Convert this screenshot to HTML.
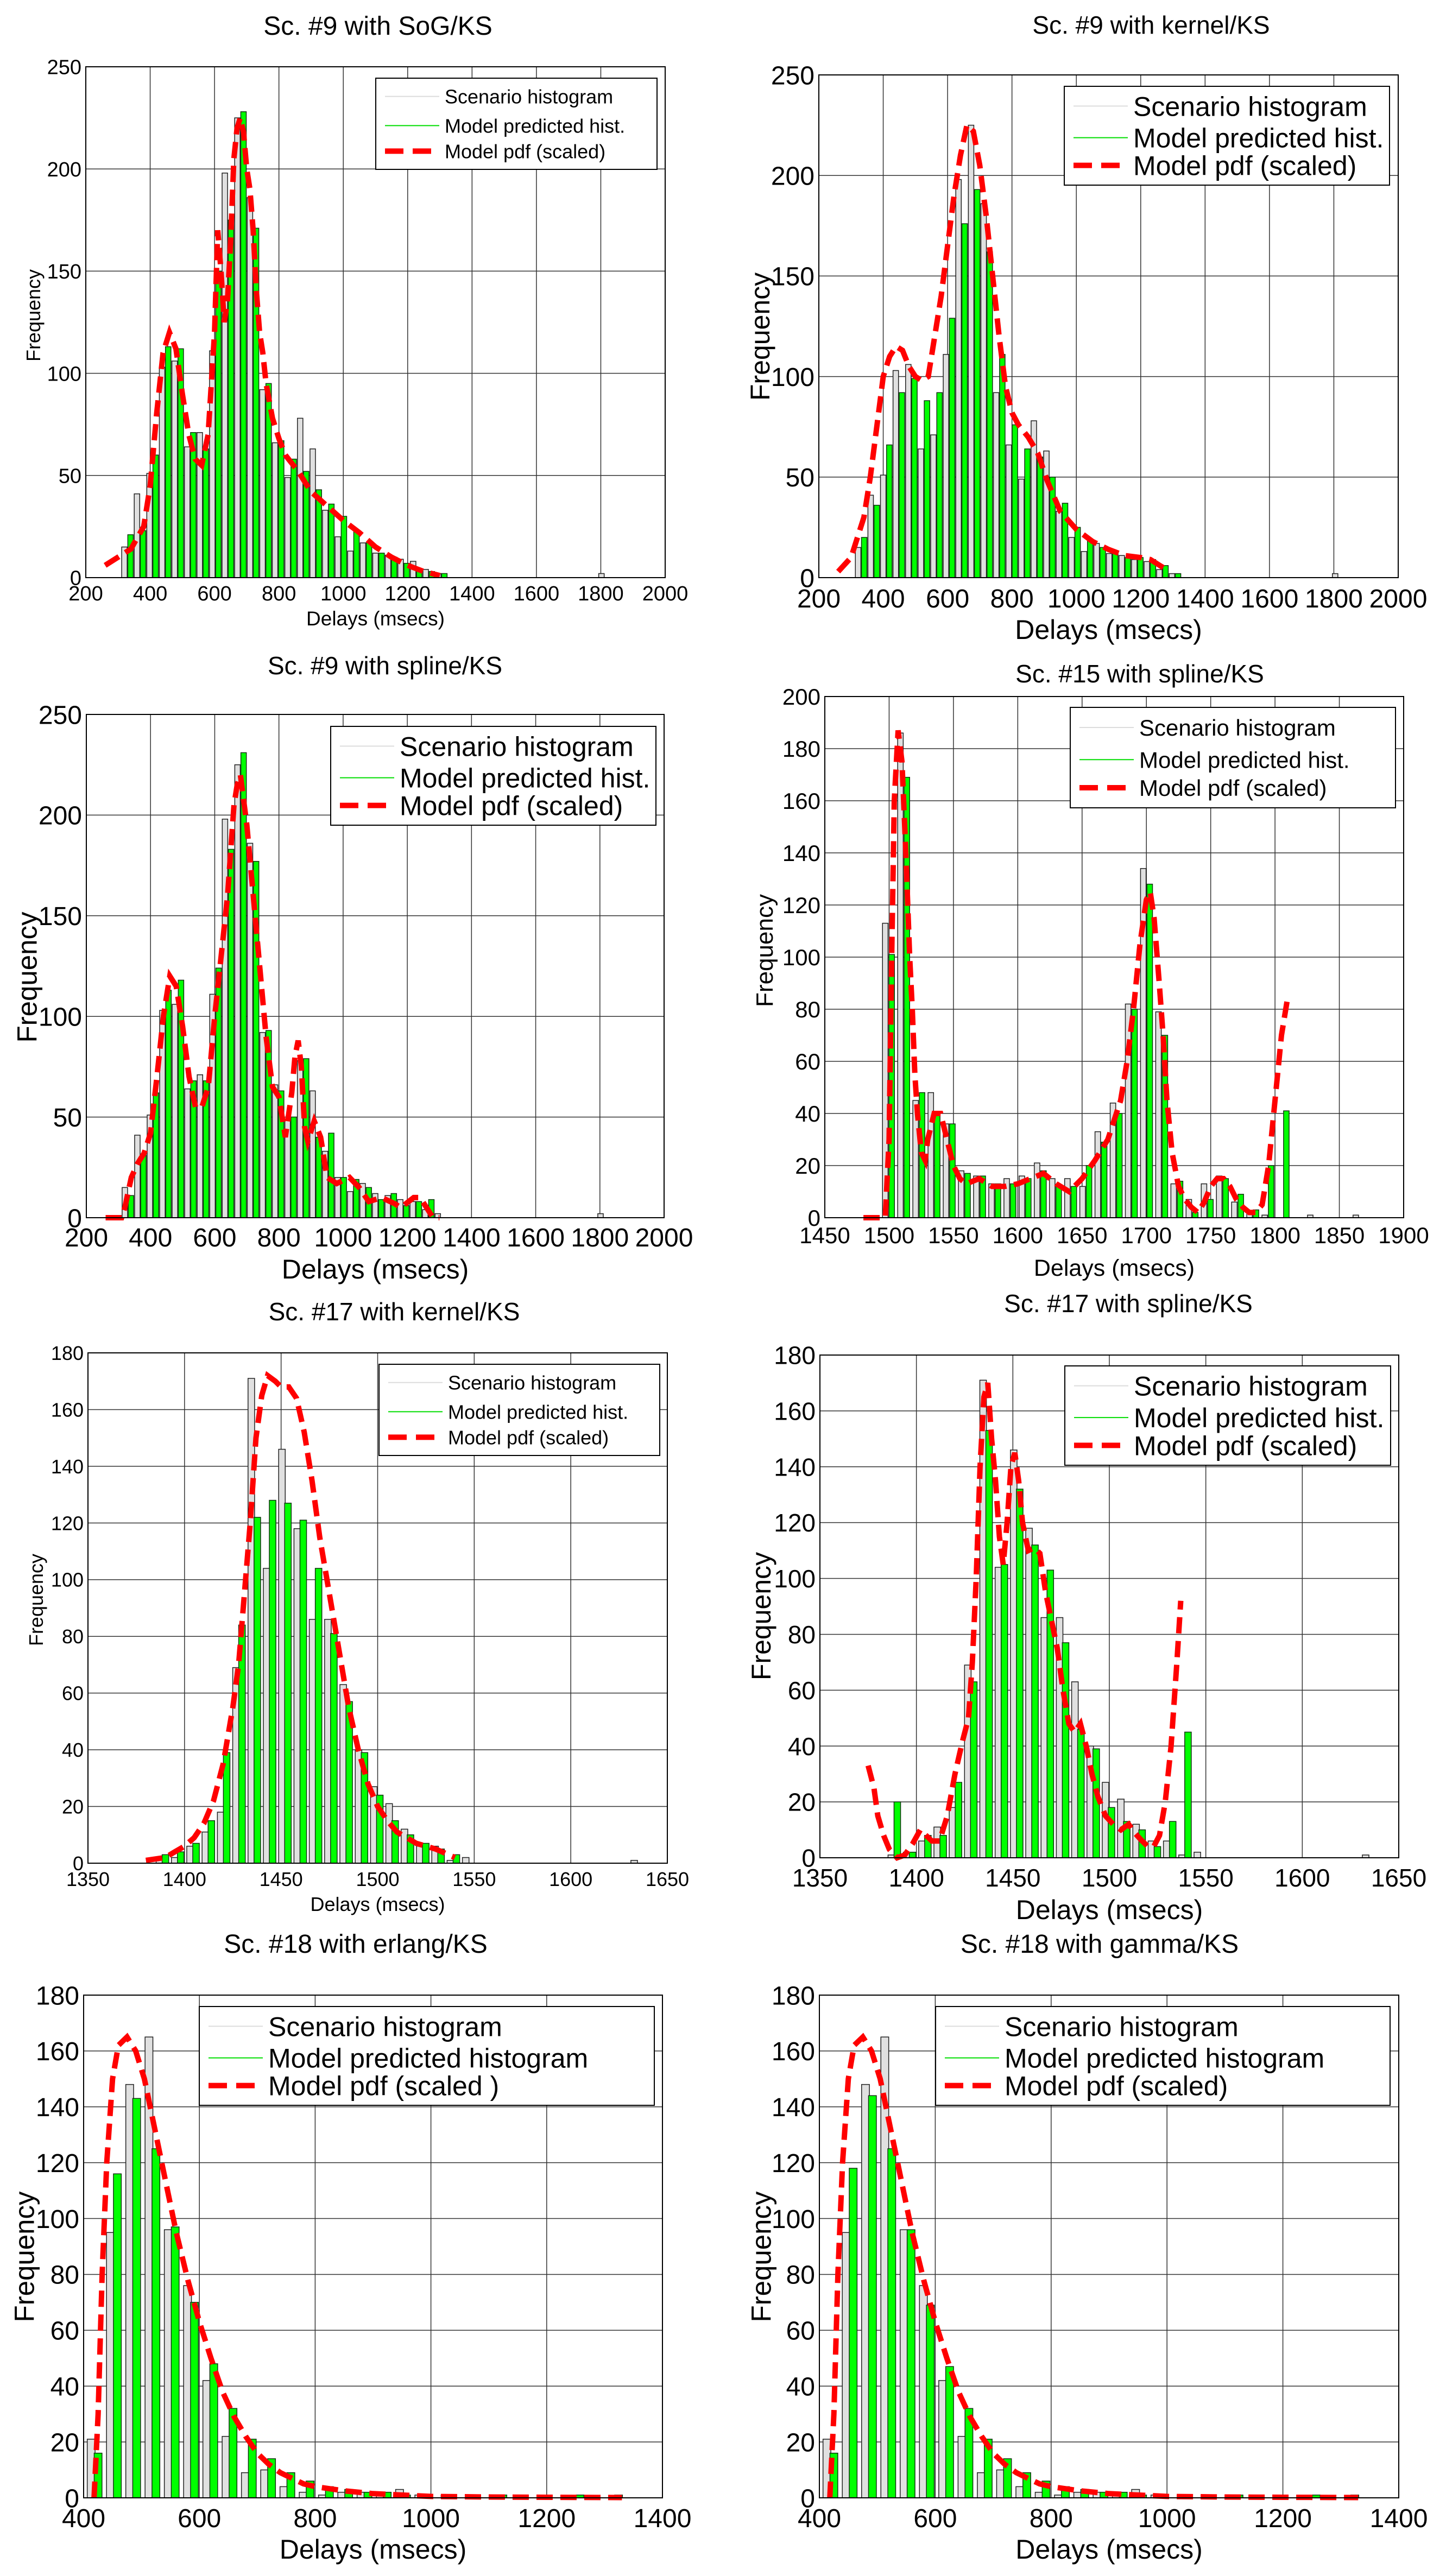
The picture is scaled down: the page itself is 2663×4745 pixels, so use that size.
<!DOCTYPE html>
<html><head><meta charset="utf-8"><title>Delay histograms</title>
<style>
html,body{margin:0;padding:0;background:#fff;}
svg{display:block;font-family:"Liberation Sans",Arial,sans-serif;}
</style></head>
<body>
<svg id="fig" xmlns="http://www.w3.org/2000/svg" width="2663" height="4745" viewBox="0 0 2663 4745">
<rect x="0" y="0" width="2663" height="4745" fill="#fff"/>
</svg>
<script>
// ---------- data ----------
const legendLabelsA = ["Scenario histogram","Model predicted hist.","Model pdf (scaled)"];
const legendLabelsB = ["Scenario histogram","Model predicted histogram","Model pdf (scaled )"];
const legendLabelsC = ["Scenario histogram","Model predicted histogram","Model pdf (scaled)"];

const xTicks9 = [200,400,600,800,1000,1200,1400,1600,1800,2000];
const yTicks9 = [0,50,100,150,200,250];
const xTicks15 = [1450,1500,1550,1600,1650,1700,1750,1800,1850,1900];
const yTicks15 = [0,20,40,60,80,100,120,140,160,180,200];
const xTicks17 = [1350,1400,1450,1500,1550,1600,1650];
const yTicks17 = [0,20,40,60,80,100,120,140,160,180];
const xTicks18 = [400,600,800,1000,1200,1400];
const yTicks18 = [0,20,40,60,80,100,120,140,160,180];

const gray9 = [15,41,51,103,106,64,71,111,198,225,186,92,66,49,78,63,33,20,13,17,12,11,9,8,4,2,0,0,0,0,0,0,0,0,0,0,0,0,2];
const green9sog = [21,23,60,113,112,71,63,150,175,228,171,95,67,58,52,43,36,30,23,17,12,10,7,4,3,2];
const pdf9sogX = [260,300,340,380,400,420,440,460,480,500,520,540,560,580,600,610,620,630,640,650,660,670,680,690,700,710,720,730,740,750,760,780,800,820,860,900,950,1000,1050,1100,1150,1200,1250,1300];
const pdf9sogY = [6,10,14,25,45,80,110,120,112,90,70,58,55,70,120,170,150,125,135,165,205,220,225,218,200,190,170,140,120,110,95,78,68,60,52,42,35,28,22,15,10,6,3,1];

const green9ker = [20,36,66,92,99,88,92,129,176,193,162,111,76,64,60,50,37,25,19,15,12,10,10,9,6,2];
const pdf9kerX = [260,300,340,360,380,400,420,440,460,480,500,520,540,560,580,600,620,640,660,680,700,720,740,760,780,800,820,850,880,910,950,1000,1050,1100,1150,1200,1230,1260,1290];
const pdf9kerY = [3,10,30,50,75,100,110,115,113,105,100,98,100,120,140,165,190,210,225,222,205,180,150,120,95,82,76,70,62,48,33,24,18,14,11,10,9,6,3];

const green9spl = [11,31,62,113,118,68,68,124,183,231,177,93,63,50,79,40,42,20,19,15,9,12,6,8,9];
const pdf9splX = [260,310,320,340,360,380,400,420,440,460,480,500,520,540,560,580,600,620,640,660,670,680,700,720,740,760,780,800,820,840,850,860,870,880,890,910,930,950,980,1020,1050,1080,1120,1160,1180,1220,1240,1260,1280,1300];
const pdf9splY = [0,0,5,20,27,32,42,70,100,120,115,95,70,55,55,65,100,130,160,205,215,220,195,160,125,90,65,60,40,62,80,88,75,45,38,48,40,20,17,20,15,8,10,7,5,10,10,5,0,0];

const gray15 = [113,186,45,48,36,18,16,13,15,16,21,15,15,12,33,44,82,134,79,13,7,13,16,6,2,1,0,0,1,0,0,1];
const green15 = [101,169,48,40,36,17,16,13,13,15,18,12,12,20,29,40,80,128,70,14,2,7,15,9,3,20,41];
const pdf15X = [1480,1497,1500,1502,1504,1507,1510,1513,1516,1518,1520,1522,1525,1528,1530,1535,1540,1545,1550,1555,1560,1570,1580,1590,1600,1610,1620,1630,1640,1650,1660,1670,1680,1685,1690,1695,1700,1703,1706,1710,1713,1716,1720,1725,1730,1735,1740,1745,1750,1755,1760,1765,1770,1775,1780,1785,1790,1795,1800,1805,1810];
const pdf15Y = [0,0,30,100,160,187,175,140,100,80,55,40,25,22,30,40,40,30,20,15,13,15,12,12,13,15,17,13,10,15,22,30,45,60,80,105,122,125,115,90,70,45,25,12,7,4,2,6,12,15,15,12,7,4,2,2,5,20,45,70,85];

const gray17 = [1,2,6,11,18,69,171,104,146,118,86,86,63,40,27,21,12,6,6,1,2,0,0,0,0,0,0,0,0,0,0,1];
const green17ker = [3,4,7,15,39,84,122,128,127,121,104,81,57,39,24,15,10,7,5,3];
const pdf17kerX = [1380,1390,1395,1400,1405,1410,1415,1420,1425,1428,1431,1434,1437,1440,1443,1447,1450,1454,1458,1462,1466,1470,1475,1480,1485,1490,1495,1500,1505,1510,1520,1530,1540];
const pdf17kerY = [1,2,4,6,9,14,22,35,55,70,95,120,150,165,172,170,168,168,164,152,135,115,95,75,55,40,28,20,15,11,7,5,2];

const green17spl = [20,2,8,8,27,63,153,105,132,112,103,77,46,39,18,13,10,4,13,45];
const pdf17splX = [1375,1378,1380,1383,1386,1390,1394,1398,1402,1405,1408,1412,1416,1420,1424,1427,1429,1431,1433,1435,1437,1439,1441,1443,1445,1447,1449,1451,1453,1455,1458,1461,1464,1467,1470,1473,1476,1479,1482,1485,1488,1491,1494,1498,1502,1506,1510,1513,1517,1520,1523,1526,1529,1532,1535,1537];
const pdf17splY = [33,25,15,8,3,0,1,5,10,8,6,6,15,30,42,50,70,100,140,165,170,150,135,115,105,120,140,145,135,120,110,111,109,95,85,75,60,48,45,48,40,30,22,15,12,10,12,9,6,4,4,8,20,40,70,92];

const gray18 = [21,95,148,165,96,76,42,22,9,10,4,2,1,2,2,2,3,1];
const green18erl = [16,116,143,125,97,70,48,32,21,14,9,6,4,3,2,2,1,1,1,0,0,1,0,1,0,1,0,1];
const green18gam = [16,118,144,125,96,69,47,32,21,14,9,6,4,3,2,2,1,1,1,0,0,1,0,1,0,1,0,1];
const pdf18X = [418,425,432,440,450,460,475,490,505,520,540,560,580,600,620,640,660,680,700,720,740,760,780,800,850,900,950,1000,1100,1200,1330];
const pdf18Y = [0,30,80,120,150,162,165,160,150,135,115,95,78,63,50,38,29,22,16,12,9,7,5,4,2.5,1.5,1,0.5,0.3,0.2,0.1];

// ---------- layout ----------
const panels = [
 {name:'sc9-sog', title:'Sc. #9  with SoG/KS', r:[158,123,1225,1064], xmin:200,xmax:2000,xt:xTicks9,ymax:250,yt:yTicks9,
  gray:gray9, green:green9sog, px:pdf9sogX, py:pdf9sogY, b0:320, bw:39, goff:19, barW:17,
  f:{tick:38,title:48,leg:36,xl:37,yl:36}, lg:[692,144,1210,312], ll:legendLabelsA,
  tx:696,ty:64, ylx:61,yly:581, xly:1152, tky:1106},
 {name:'sc9-kernel', title:'Sc. #9 with kernel/KS', r:[1508,138,2575,1064], xmin:200,xmax:2000,xt:xTicks9,ymax:250,yt:yTicks9,
  gray:gray9, green:green9ker, px:pdf9kerX, py:pdf9kerY, b0:322, bw:39, goff:19, barW:17,
  f:{tick:48,title:46,leg:50,xl:50,yl:50}, lg:[1960,159,2559,341], ll:legendLabelsA,
  tx:2120,ty:62, ylx:1399,yly:620, xly:1177, tky:1119},
 {name:'sc9-spline', title:'Sc. #9  with spline/KS', r:[159,1316,1223,2243], xmin:200,xmax:2000,xt:xTicks9,ymax:250,yt:yTicks9,
  gray:gray9, green:green9spl, px:pdf9splX, py:pdf9splY, b0:320, bw:39, goff:19, barW:17,
  f:{tick:48,title:46,leg:50,xl:50,yl:51}, lg:[609,1338,1208,1520], ll:legendLabelsA,
  tx:709,ty:1242, ylx:49,yly:1800, xly:2355, tky:2296},
 {name:'sc15-spline', title:'Sc. #15 with spline/KS', r:[1519,1283,2585,2243], xmin:1450,xmax:1900,xt:xTicks15,ymax:200,yt:yTicks15,
  gray:gray15, green:green15, px:pdf15X, py:pdf15Y, b0:1497, bw:11.8, goff:5, barW:4.3,
  f:{tick:42,title:46,leg:42,xl:43,yl:44}, lg:[1971,1303,2570,1488], ll:legendLabelsA,
  tx:2099,ty:1257, ylx:1407,yly:1751, xly:2350, tky:2290},
 {name:'sc17-kernel', title:'Sc. #17 with kernel/KS', r:[162,2492,1229,3432], xmin:1350,xmax:1650,xt:xTicks17,ymax:180,yt:yTicks17,
  gray:gray17, green:green17ker, px:pdf17kerX, py:pdf17kerY, b0:1387, bw:7.93, goff:3.1, barW:3.4,
  f:{tick:36,title:46,leg:36,xl:36,yl:36}, lg:[698,2513,1215,2681], ll:legendLabelsA,
  tx:726,ty:2432, ylx:66,yly:2947, xly:3520, tky:3474},
 {name:'sc17-spline', title:'Sc. #17 with  spline/KS', r:[1510,2496,2576,3422], xmin:1350,xmax:1650,xt:xTicks17,ymax:180,yt:yTicks17,
  gray:gray17, green:green17spl, px:pdf17splX, py:pdf17splY, b0:1387, bw:7.93, goff:3.1, barW:3.4,
  f:{tick:46,title:46,leg:50,xl:50,yl:50}, lg:[1961,2516,2561,2699], ll:legendLabelsA,
  tx:2078,ty:2417, ylx:1401,yly:2977, xly:3535, tky:3475},
 {name:'sc18-erlang', title:'Sc. #18 with erlang/KS', r:[154,3675,1220,4601], xmin:400,xmax:1400,xt:xTicks18,ymax:180,yt:yTicks18,
  gray:gray18, green:green18erl, px:pdf18X, py:pdf18Y, b0:413, bw:33.3, goff:12, barW:13.5,
  f:{tick:48,title:48,leg:50,xl:50,yl:51}, lg:[367,3696,1205,3878], ll:legendLabelsB,
  tx:655,ty:3597, ylx:44,yly:4157, xly:4713, tky:4655},
 {name:'sc18-gamma', title:'Sc. #18 with gamma/KS', r:[1509,3675,2576,4601], xmin:400,xmax:1400,xt:xTicks18,ymax:180,yt:yTicks18,
  gray:gray18, green:green18gam, px:pdf18X, py:pdf18Y, b0:413, bw:33.3, goff:12, barW:13.5,
  f:{tick:48,title:48,leg:50,xl:50,yl:51}, lg:[1723,3696,2560,3878], ll:legendLabelsC,
  tx:2025,ty:3597, ylx:1401,yly:4157, xly:4713, tky:4655}
];

const NS='http://www.w3.org/2000/svg';
const svg=document.getElementById('fig');
function mk(tag,attrs,parent){const e=document.createElementNS(NS,tag);for(const k in attrs)e.setAttribute(k,attrs[k]);(parent||svg).appendChild(e);return e;}

panels.forEach(p=>{
  const g=mk('g',{});
  
  
  const [L,T,R,B]=p.r;
  const sx=v=>L+(v-p.xmin)/(p.xmax-p.xmin)*(R-L);
  const sy=v=>B-(v/p.ymax)*(B-T);
  // grid
  p.xt.forEach(t=>{const l=mk('line',{x1:sx(t),x2:sx(t),y1:T,y2:B,stroke:'#333','stroke-width':1.5},g);
    
    });
  p.yt.forEach(t=>{const l=mk('line',{x1:L,x2:R,y1:sy(t),y2:sy(t),stroke:'#333','stroke-width':1.5},g);
    
    });
  // bars
  const hw=p.barW/2;
  p.gray.forEach((v,i)=>{ if(v<=0) return;
    const c=p.b0+i*p.bw; const x1=sx(c-hw), x2=sx(c+hw);
    const r=mk('rect',{x:x1,y:sy(v),width:x2-x1,height:B-sy(v),fill:'#e0e0e0',stroke:'#222','stroke-width':1.5},g);
    
    });
  p.green.forEach((v,i)=>{ if(v<=0) return;
    const c=p.b0+i*p.bw+p.goff; const x1=sx(c-hw), x2=sx(c+hw);
    const r=mk('rect',{x:x1,y:sy(v),width:x2-x1,height:B-sy(v),fill:'#00ff00',stroke:'#113311','stroke-width':1.5},g);
    
    });
  // pdf
  const pts=p.px.map((x,i)=>sx(x).toFixed(1)+','+sy(p.py[i]).toFixed(1)).join(' ');
  const pl=mk('polyline',{points:pts,fill:'none',stroke:'#ff0000','stroke-width':10,'stroke-dasharray':'30 14'},g);
  
  
  // frame
  const fr=mk('rect',{x:L,y:T,width:R-L,height:B-T,fill:'none',stroke:'#000','stroke-width':2},g);
  
  
  // tick labels
  p.xt.forEach(t=>{const tx=mk('text',{x:sx(t),y:p.tky,'font-size':p.f.tick,'text-anchor':'middle',fill:'#000'},g);
    tx.textContent=t;
    
    });
  p.yt.forEach(t=>{const tx=mk('text',{x:L-8,y:sy(t)+p.f.tick*0.36,'font-size':p.f.tick,'text-anchor':'end',fill:'#000'},g);
    tx.textContent=t;
    
    });
  // titles
  const ti=mk('text',{x:p.tx,y:p.ty,'font-size':p.f.title,'text-anchor':'middle',fill:'#000'},g);
  ti.textContent=p.title;
  
  
  const xl=mk('text',{x:(L+R)/2,y:p.xly,'font-size':p.f.xl,'text-anchor':'middle',fill:'#000'},g);
  xl.textContent='Delays (msecs)';
  
  
  const yl=mk('text',{x:0,y:0,'font-size':p.f.yl,'text-anchor':'middle',fill:'#000',transform:'translate('+(p.ylx+p.f.yl*0.36)+','+p.yly+') rotate(-90)'},g);
  yl.textContent='Frequency';
  
  
  // legend
  const [a,b,c,d]=p.lg;
  const lgG=mk('g',{},g);
  
  
  mk('rect',{x:a,y:b,width:c-a,height:d-b,fill:'#fff',stroke:'#000','stroke-width':2},lgG);
  const rows=[0.2,0.52,0.8];
  const styles=[{stroke:'#dcdcdc','stroke-width':2},{stroke:'#00dd00','stroke-width':2},{stroke:'#ff0000','stroke-width':10,'stroke-dasharray':'34 17'}];
  p.ll.forEach((lab,i)=>{
    const yy=b+rows[i]*(d-b);
    const ln=mk('line',Object.assign({x1:a+17,x2:a+117,y1:yy,y2:yy},styles[i]),lgG);
    
    
    const t=mk('text',{x:a+127,y:yy+p.f.leg*0.36,'font-size':p.f.leg,fill:'#000'},lgG);
    t.textContent=lab;
    
    
  });
});
</script>
</body></html>
